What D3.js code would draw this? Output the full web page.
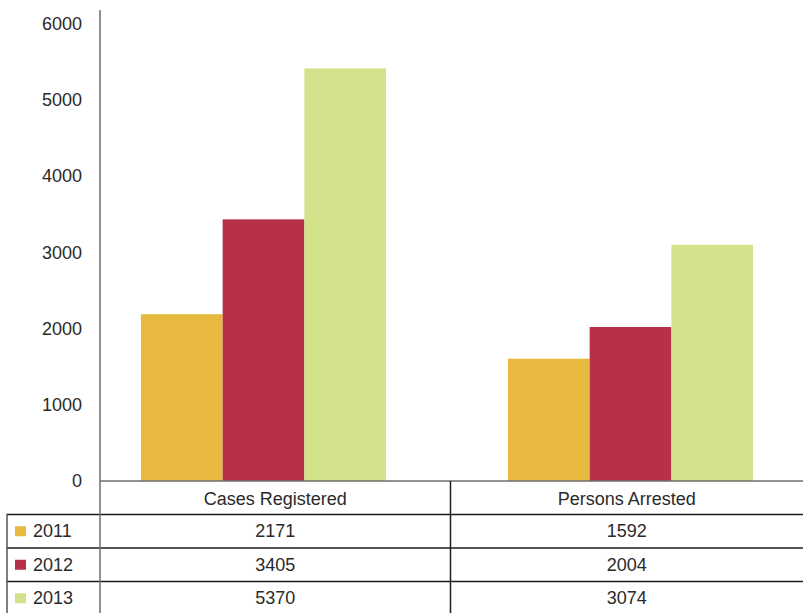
<!DOCTYPE html>
<html>
<head>
<meta charset="utf-8">
<script src="https://cdn.jsdelivr.net/npm/d3@7"></script>
<style>
  html, body { margin: 0; padding: 0; background: #fff; }
  svg { display: block; }
  text { font-family: "Liberation Sans", Arial, sans-serif; fill: #2a2a2a; }
</style>
</head>
<body>
<svg id="chart" width="803" height="613"></svg>
<script>
// ---- data ----
const categories = ["Cases Registered", "Persons Arrested"];
const years = ["2011", "2012", "2013"];
const values2011 = [2171, 1592];
const values2012 = [3405, 2004];
const values2013 = [5370, 3074];
const yTicks = [0, 1000, 2000, 3000, 4000, 5000, 6000];
const colors = ["#E7BA3F", "#B6304A", "#D3E28A"];

const seriesValues = [values2011, values2012, values2013];
const rows = categories.map((c, i) => {
  const r = { category: c };
  years.forEach((y, j) => r[y] = seriesValues[j][i]);
  return r;
});

// ---- layout ----
const W = 803, H = 613;
const axisX = 100;
const baseY = 481;
const svg = d3.select("#chart");

const y = d3.scaleLinear().domain([0, 6000]).range([baseY, 20]);
const x0 = d3.scaleBand().domain(categories).range([80, 814])
  .paddingInner(0.332).paddingOuter(0.166);
const x1 = d3.scaleBand().domain(years).range([0, x0.bandwidth()]);
const color = d3.scaleOrdinal().domain(years).range(colors);

// bars
const g = svg.append("g");
g.selectAll("g.grp").data(rows).join("g")
  .attr("class", "grp")
  .attr("transform", d => `translate(${x0(d.category)},0)`)
  .selectAll("rect").data(d => years.map(k => ({ key: k, value: d[k] })))
  .join("rect")
  .attr("x", d => x1(d.key))
  .attr("width", x1.bandwidth())
  .attr("y", d => y(d.value))
  .attr("height", d => y(0) - y(d.value))
  .attr("fill", d => color(d.key));

// y axis
const yAxis = d3.axisLeft(y).tickValues(yTicks).tickSize(0).tickPadding(18).tickFormat(d3.format("d"));
const ya = svg.append("g").attr("transform", `translate(${axisX},0)`).call(yAxis);
ya.select(".domain").remove();
ya.selectAll("text").style("font-size", "18px").attr("fill", "#2a2a2a")
  .attr("dy", (d) => (0.32 + d / 6000 * 0.2) + "em")
  .style("font-family", "'Liberation Sans', Arial, sans-serif");

// ---- data table ----
const colEdges = [axisX, 450.5, W];
const colCenter = i => (colEdges[i] + colEdges[i + 1]) / 2;
const rowLines = [baseY, 514.5, 548, 581.5];
const lineCol = "#1e1e1e";
const fs = "18px";

// header labels
categories.forEach((c, i) => {
  svg.append("text").attr("x", colCenter(i)).attr("y", (rowLines[0] + rowLines[1]) / 2 + 1)
    .attr("text-anchor", "middle").attr("dominant-baseline", "central")
    .style("font-size", fs).text(c);
});

// year rows
years.forEach((yr, j) => {
  const top = rowLines[j + 1];
  const bottom = j + 2 < rowLines.length ? rowLines[j + 2] : 615;
  const cy = (top + bottom) / 2;
  svg.append("rect").attr("x", 15).attr("y", cy - 5).attr("width", 11).attr("height", 10)
    .attr("fill", color(yr));
  svg.append("text").attr("x", 33).attr("y", cy).attr("dominant-baseline", "central")
    .style("font-size", fs).text(yr);
  categories.forEach((c, i) => {
    svg.append("text").attr("x", colCenter(i)).attr("y", cy)
      .attr("text-anchor", "middle").attr("dominant-baseline", "central")
      .style("font-size", fs).text(seriesValues[j][i]);
  });
});

// table lines
svg.append("line").attr("x1", axisX).attr("x2", W).attr("y1", baseY).attr("y2", baseY)
  .attr("stroke", "#6e6e6e").attr("stroke-width", 1.5);
rowLines.slice(1).forEach(ry => {
  svg.append("line").attr("x1", 6.5).attr("x2", W).attr("y1", ry).attr("y2", ry)
    .attr("stroke", lineCol).attr("stroke-width", 1.5);
});
svg.append("line").attr("x1", 7).attr("x2", 7).attr("y1", rowLines[1]).attr("y2", H)
  .attr("stroke", "#555").attr("stroke-width", 1.5);
svg.append("line").attr("x1", colEdges[1]).attr("x2", colEdges[1]).attr("y1", baseY).attr("y2", H)
  .attr("stroke", lineCol).attr("stroke-width", 1.5);
// y axis line
svg.append("line").attr("x1", axisX).attr("x2", axisX).attr("y1", 10).attr("y2", H)
  .attr("stroke", "#6e6e6e").attr("stroke-width", 1.5);
</script>
</body>
</html>
